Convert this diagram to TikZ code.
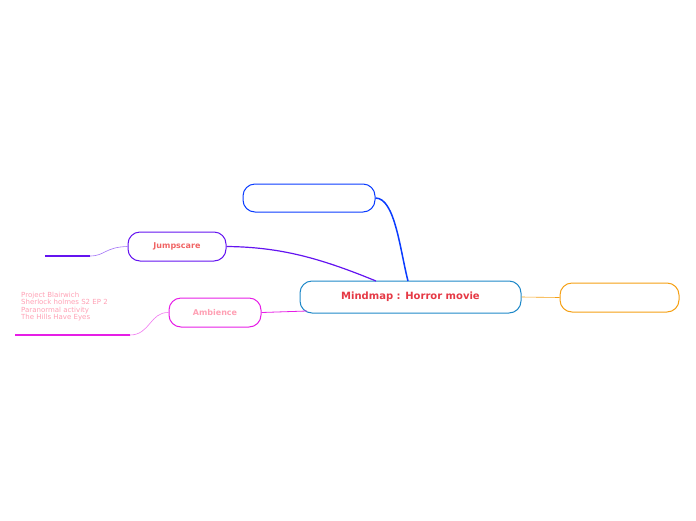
\documentclass[tikz,border=0pt]{standalone}
\usepackage{fontspec}
\setmainfont{DejaVu Sans}
\begin{document}
\begin{tikzpicture}[x=1pt,y=-1pt,
  box/.style={draw,rounded corners=12pt,line width=1pt,minimum height=29pt,inner sep=0pt},
  lbl/.style={font=\fontsize{7}{9}\selectfont,text=pink!70!red!60,align=left,anchor=north west,inner sep=0pt}]
\definecolor{cblue}{HTML}{1E88C8}
\definecolor{tred}{HTML}{E53945}
\definecolor{dblue}{HTML}{0A3CFF}
\definecolor{purp}{HTML}{6414F0}
\definecolor{mag}{HTML}{E61EE6}
\definecolor{orng}{HTML}{F5A014}
\definecolor{tjump}{HTML}{F06464}
\definecolor{tamb}{HTML}{FFA0B4}
\definecolor{tleaf}{HTML}{FFA0B4}
\useasboundingbox (0,0) rectangle (696,520);
\node[box,draw=cblue,minimum width=221pt,minimum height=32pt,text=tred,font=\bfseries\fontsize{10}{12}\selectfont] (c) at (410.5,297) {Mindmap : Horror movie};
\node[box,draw=dblue,minimum width=132pt,minimum height=28pt] (t) at (309,198) {};
\node[box,draw=orng,minimum width=119pt,minimum height=29pt] (r) at (619.5,297.5) {};
\node[box,draw=purp,minimum width=98pt,text=tjump,font=\bfseries\fontsize{8}{10}\selectfont] (j) at (177,246.5) {Jumpscare};
\node[box,draw=mag,minimum width=92pt,text=tamb,font=\bfseries\fontsize{8}{10}\selectfont] (a) at (215,312.5) {Ambience};
\coordinate (jl) at (90,256);
\coordinate (jl2) at (45,256);
\coordinate (al) at (130,335);
\coordinate (al2) at (15,335);
\draw[dblue,line width=1.5pt] (408,281) .. controls (400,250) and (395,198) .. (t.east);
\draw[purp,line width=1.2pt] (376,281) .. controls (320,258) and (280,247) .. (j.east);
\draw[mag,line width=0.8pt] (307,311) -- (a.east);
\draw[orng,line width=0.6pt] (c.east) -- (r.west);
\draw[purp!60,line width=0.6pt] (j.west) .. controls (105,247) and (105,256) .. (jl);
\draw[purp,line width=1.6pt] (jl) -- (jl2);
\draw[mag!60,line width=0.6pt] (a.west) .. controls (150,312) and (150,335) .. (al);
\draw[mag,line width=1.6pt] (al) -- (al2);
\node[lbl,text=tleaf] (lt) at (21,292) {Project Blairwich\\[-1.6pt]Sherlock holmes S2 EP 2\\[-1.6pt]Paranormal activity\\[-1.6pt]The Hills Have Eyes};
\end{tikzpicture}
\end{document}
